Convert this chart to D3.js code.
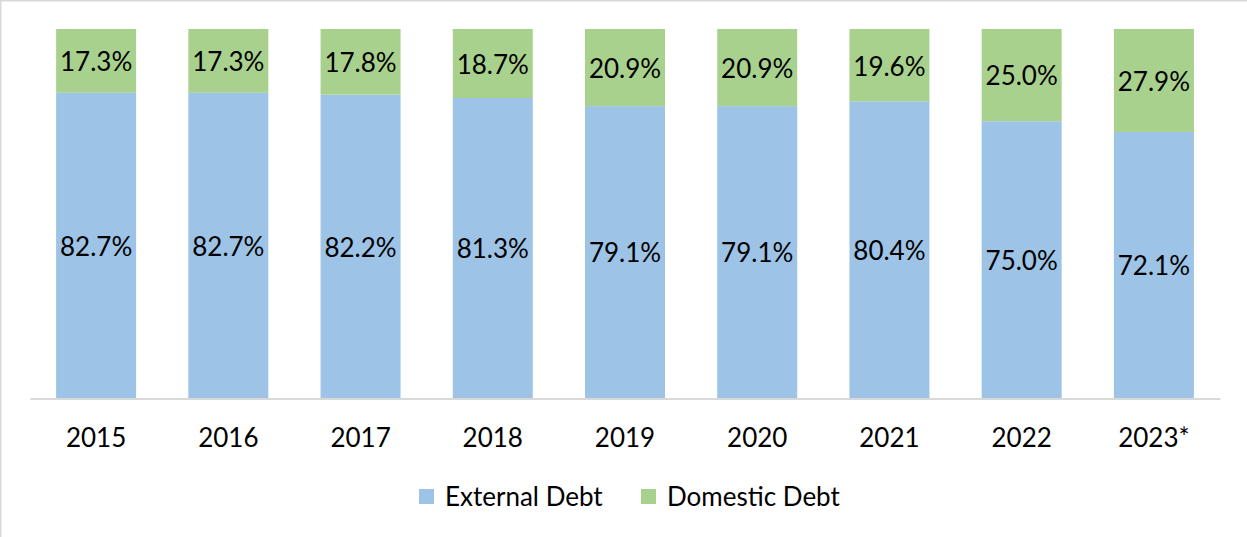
<!DOCTYPE html>
<html><head><meta charset="utf-8">
<script src="https://cdn.jsdelivr.net/npm/d3@7"></script>
<style>body{margin:0;background:#fff}svg{display:block}</style>
</head><body>
<script>
const categories = ["2015","2016","2017","2018","2019","2020","2021","2022","2023*"];
const externalDebt = [82.7,82.7,82.2,81.3,79.1,79.1,80.4,75.0,72.1];
const domesticDebt = [17.3,17.3,17.8,18.7,20.9,20.9,19.6,25.0,27.9];
const seriesNames = ["External Debt","Domestic Debt"];
const colors = ["#9DC3E6","#A9D18E"];

const W=1247,H=537;
const svg=d3.select("body").append("svg").attr("width",W).attr("height",H);
svg.append("rect").attr("x",0.5).attr("y",0.5).attr("width",W+2).attr("height",H+2)
  .attr("fill","#fff").attr("stroke","#D9D9D9").attr("stroke-width",2);
const font="Lato, 'Open Sans', sans-serif";

const x=d3.scaleBand().domain(categories).range([30,1220]).paddingInner(0.395).paddingOuter(0.1975);
const y=d3.scaleLinear().domain([0,100]).range([398,29]);

const rows=categories.map((c,i)=>({cat:c,ext:externalDebt[i],dom:domesticDebt[i]}));
const stack=d3.stack().keys(["ext","dom"])(rows);

stack.forEach((layer,li)=>{
  const g=svg.append("g");
  g.selectAll("rect").data(layer).join("rect")
    .attr("x",d=>x(d.data.cat)).attr("width",x.bandwidth())
    .attr("y",d=>y(d[1])).attr("height",d=>y(d[0])-y(d[1]))
    .attr("fill",colors[li]);
  g.selectAll("text").data(layer).join("text")
    .attr("x",d=>x(d.data.cat)+x.bandwidth()/2)
    .attr("y",d=>(y(d[0])+y(d[1]))/2+1)
    .attr("dy","0.36em").attr("text-anchor","middle")
    .attr("font-family",font).attr("font-size",26).attr("fill","#000")
    .text(d=>(d[1]-d[0]).toFixed(1)+"%");
});

const ax=svg.append("g").attr("transform","translate(0,398.5)")
  .call(d3.axisBottom(x).tickSize(0).tickPadding(30));
ax.select(".domain").attr("stroke","#D9D9D9").attr("stroke-width",2);
ax.selectAll("text").attr("font-family",font).attr("font-size",26).attr("fill","#000").attr("dy","0.71em");

const leg=svg.append("g");
const legX=[419,641];
seriesNames.forEach((n,i)=>{
  leg.append("rect").attr("x",legX[i]).attr("y",489).attr("width",15).attr("height",15).attr("fill",colors[i]);
  leg.append("text").attr("x",legX[i]+26).attr("y",496.5).attr("dy","0.36em")
    .attr("font-family",font).attr("font-size",26).attr("fill","#000").text(n);
});
</script>
</body></html>
